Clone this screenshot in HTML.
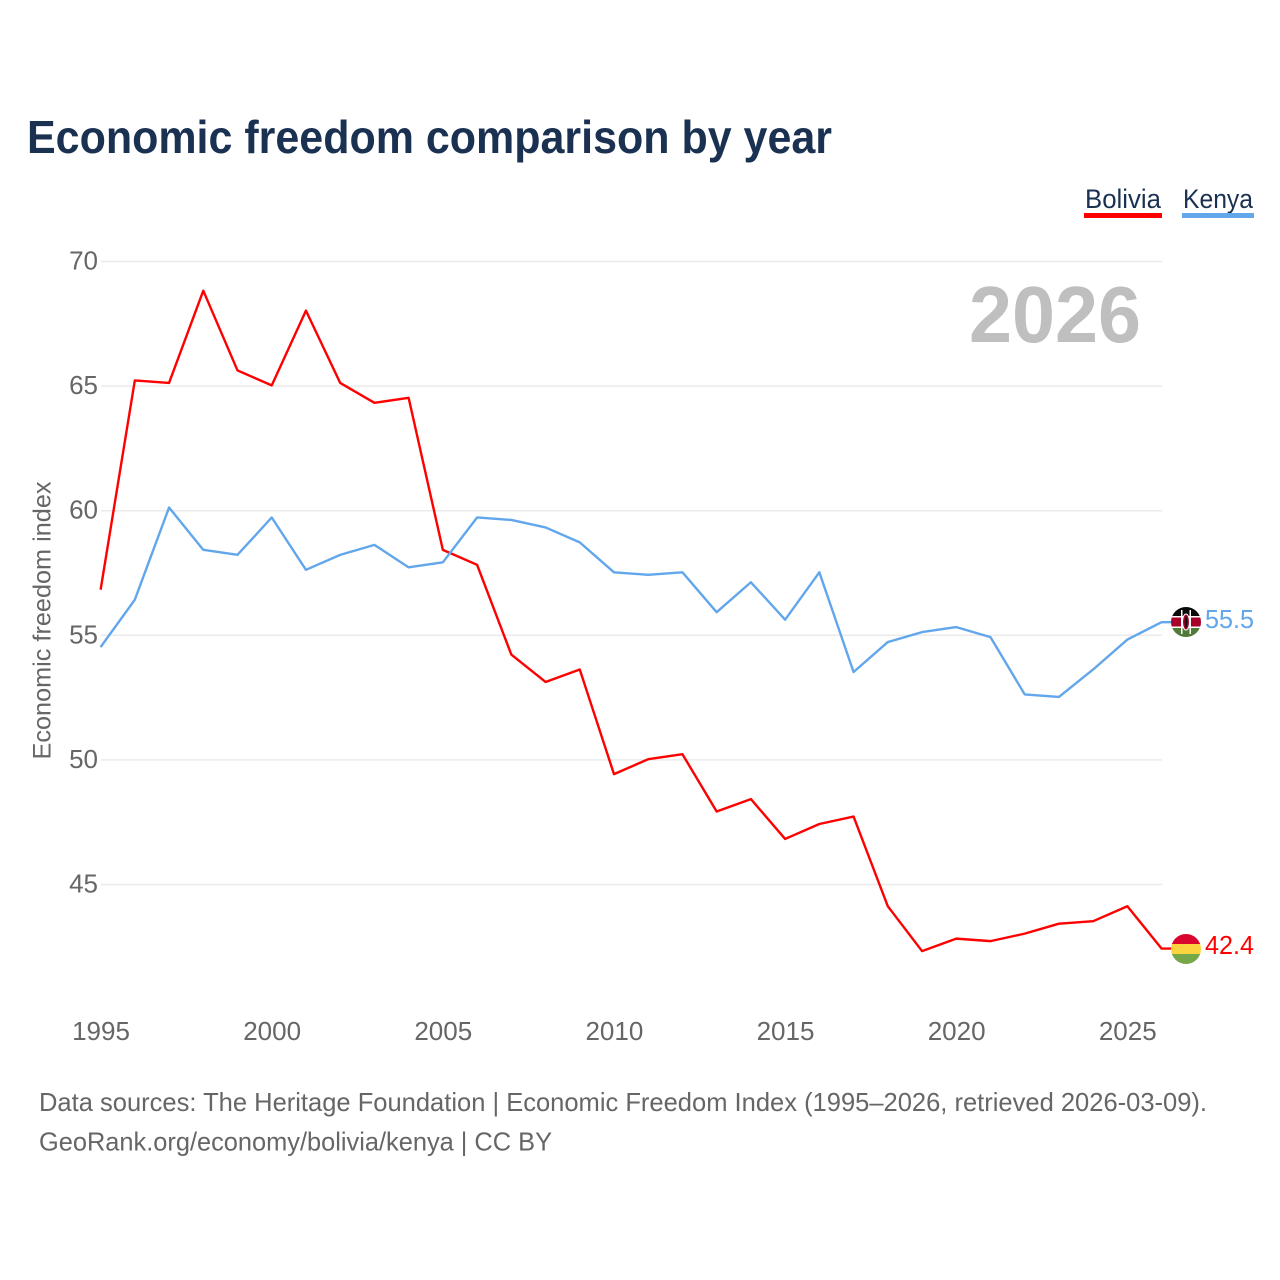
<!DOCTYPE html>
<html lang="en">
<head>
<meta charset="utf-8">
<title>Economic freedom comparison by year</title>
<style>
html,body{margin:0;padding:0;background:#fff;width:1280px;height:1280px;overflow:hidden}
svg{display:block}
text{font-family:"Liberation Sans",sans-serif}
.tick{font-size:26px;fill:#666}
.foot{font-size:26px;fill:#666}
</style>
</head>
<body>
<svg id="chart" width="1280" height="1280" viewBox="0 0 1280 1280" xmlns="http://www.w3.org/2000/svg">
  <defs>
    <clipPath id="kenya-clip"><circle cx="1186" cy="622" r="15"/></clipPath>
    <clipPath id="bolivia-clip"><circle cx="1186" cy="949" r="15"/></clipPath>
  </defs>
  <text x="27" y="153" font-size="46" font-weight="700" fill="#1a3152" textLength="805" lengthAdjust="spacingAndGlyphs">Economic freedom comparison by year</text>

  <g id="grid"></g>
  <g id="y-ticks"></g>
  <g id="x-ticks"></g>
  <text transform="translate(50.5,620.5) rotate(-90)" text-anchor="middle" font-size="25" fill="#666" textLength="278" lengthAdjust="spacingAndGlyphs">Economic freedom index</text>

  <text x="969" y="342" font-size="80" font-weight="700" fill="#bfbfbf" textLength="172" lengthAdjust="spacingAndGlyphs">2026</text>

  <g>
    <text x="1085" y="208" font-size="27" fill="#1a3152" textLength="76" lengthAdjust="spacingAndGlyphs">Bolivia</text>
    <rect x="1084" y="213" width="78" height="5" fill="#ff0000"/>
  </g>
  <g>
    <text x="1183" y="208" font-size="27" fill="#1a3152" textLength="70" lengthAdjust="spacingAndGlyphs">Kenya</text>
    <rect x="1182" y="213" width="72" height="5" fill="#62a6ec"/>
  </g>

  <g id="series" transform="translate(-0.4,-0.7)"></g>

  <g clip-path="url(#kenya-clip)">
    <rect x="1170" y="607" width="32" height="10" fill="#0a0a0a"/>
    <rect x="1170" y="616" width="32" height="13" fill="#fff"/>
    <rect x="1170" y="617.5" width="32" height="9" fill="#a8002a"/>
    <rect x="1170" y="628" width="32" height="10" fill="#4f7a38"/>
    <rect x="1181" y="610" width="1.5" height="24" fill="#fff"/>
    <rect x="1189.5" y="610" width="1.5" height="24" fill="#fff"/>
    <ellipse cx="1186" cy="622" rx="3.5" ry="8" fill="#a8002a" stroke="#fff" stroke-width="1"/>
    <ellipse cx="1186" cy="622" rx="1.3" ry="6" fill="#111"/>
  </g>
  <g clip-path="url(#bolivia-clip)">
    <rect x="1170" y="934" width="32" height="10" fill="#d9062e"/>
    <rect x="1170" y="944" width="32" height="10" fill="#fcd440"/>
    <rect x="1170" y="954" width="32" height="10" fill="#76a84a"/>
  </g>

  <text x="1205" y="628" font-size="25.5" fill="#62a6ec" textLength="49" lengthAdjust="spacingAndGlyphs">55.5</text>
  <text x="1205" y="954" font-size="25.5" fill="#ff0000" textLength="49" lengthAdjust="spacingAndGlyphs">42.4</text>

  <text class="foot" x="39" y="1111" textLength="1168" lengthAdjust="spacingAndGlyphs">Data sources: The Heritage Foundation | Economic Freedom Index (1995–2026, retrieved 2026-03-09).</text>
  <text class="foot" x="39" y="1150.5" textLength="513" lengthAdjust="spacingAndGlyphs">GeoRank.org/economy/bolivia/kenya | CC BY</text>
</svg>
<script>
const years = [1995,1996,1997,1998,1999,2000,2001,2002,2003,2004,2005,2006,2007,2008,2009,2010,2011,2012,2013,2014,2015,2016,2017,2018,2019,2020,2021,2022,2023,2024,2025,2026];
const boliviaValues = [56.8,65.2,65.1,68.8,65.6,65.0,68.0,65.1,64.3,64.5,58.4,57.8,54.2,53.1,53.6,49.4,50.0,50.2,47.9,48.4,46.8,47.4,47.7,44.1,42.3,42.8,42.7,43.0,43.4,43.5,44.1,42.4];
const kenyaValues = [54.5,56.4,60.1,58.4,58.2,59.7,57.6,58.2,58.6,57.7,57.9,59.7,59.6,59.3,58.7,57.5,57.4,57.5,55.9,57.1,55.6,57.5,53.5,54.7,55.1,55.3,54.9,52.6,52.5,53.6,54.8,55.5];
const yTickLabels = [70,65,60,55,50,45];
const xTickLabels = [1995,2000,2005,2010,2015,2020,2025];

const plotLeft = 101, plotRight = 1162, plotTop = 261.5, plotBottom = 884.5;
function xScale(year) {
  return plotLeft + (year - 1995) * (plotRight - plotLeft) / (2026 - 1995);
}
function yScale(value) {
  return plotTop + (70 - value) * (plotBottom - plotTop) / (70 - 45);
}
const NS = 'http://www.w3.org/2000/svg';
function make(tag, parent) {
  const el = document.createElementNS(NS, tag);
  parent.appendChild(el);
  return el;
}

const gridGroup = document.getElementById('grid');
const yTickGroup = document.getElementById('y-ticks');
const xTickGroup = document.getElementById('x-ticks');
const seriesGroup = document.getElementById('series');

yTickLabels.forEach(function (tick) {
  const line = make('line', gridGroup);
  
  
  line.setAttribute('x1', plotLeft);
  line.setAttribute('x2', plotRight);
  line.setAttribute('y1', yScale(tick));
  line.setAttribute('y2', yScale(tick));
  line.setAttribute('stroke', '#ebebeb');
  line.setAttribute('stroke-width', '1.5');

  const label = make('text', yTickGroup);
  
  
  label.setAttribute('class', 'tick');
  label.setAttribute('x', 98);
  label.setAttribute('y', yScale(tick) + 8);
  label.setAttribute('text-anchor', 'end');
  label.textContent = tick;
});

xTickLabels.forEach(function (tick) {
  const label = make('text', xTickGroup);
  
  
  label.setAttribute('class', 'tick');
  label.setAttribute('x', xScale(tick));
  label.setAttribute('y', 1040);
  label.setAttribute('text-anchor', 'middle');
  label.textContent = tick;
});

function drawSeries(values, color, name) {
  const path = make('path', seriesGroup);
  
  
  path.setAttribute('fill', 'none');
  path.setAttribute('stroke', color);
  path.setAttribute('stroke-width', '2.4');
  path.setAttribute('stroke-linejoin', 'round');
  const last = values.length - 1;
  path.setAttribute('d', values.map(function (v, i) {
    return (i ? 'L' : 'M') + xScale(years[i]).toFixed(2) + ' ' + yScale(v).toFixed(2);
  }).join('') + 'H' + (xScale(years[last]) + 10));
}
drawSeries(boliviaValues, '#ff0000', 'line-bolivia');
drawSeries(kenyaValues, '#62a6ec', 'line-kenya');
</script>
</body>
</html>
